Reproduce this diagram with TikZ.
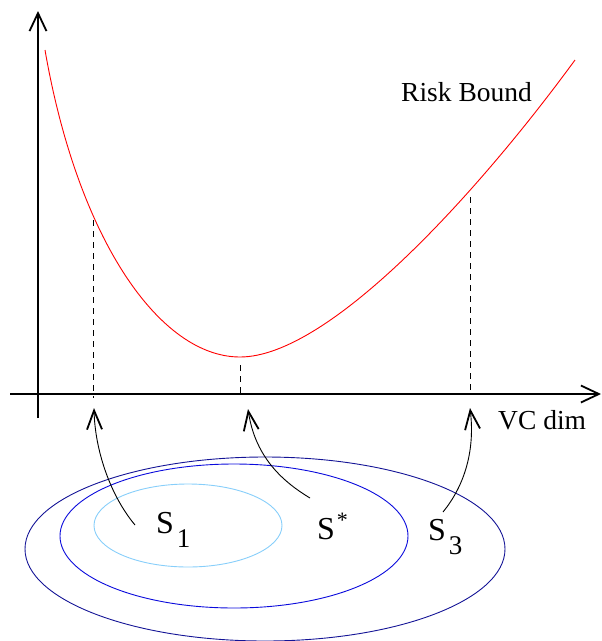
\documentclass[tikz,border=0pt]{standalone}
\usepackage{fontspec}
\setmainfont{Liberation Serif}
\usetikzlibrary{arrows.meta}
\definecolor{outerblue}{RGB}{20,20,150}
\definecolor{midblue}{RGB}{10,10,220}
\definecolor{innerblue}{RGB}{135,206,250}
\begin{document}
\begin{tikzpicture}[x=1pt,y=-1pt,
  axis/.style={line width=1.2pt,-{Straight Barb[length=18pt,width=17pt,line width=1.8pt]}},
  pointer/.style={line width=0.9pt,-{Straight Barb[length=19pt,width=15pt,line width=1.8pt]}},
  guide/.style={line width=0.8pt,dash pattern=on 6pt off 5pt},
  lbl/.style={inner sep=0pt,font=\fontsize{32}{32}\selectfont},
  small/.style={inner sep=0pt,font=\fontsize{27.5}{27.5}\selectfont}]
\useasboundingbox (0,0) rectangle (602,641);
% axes
\coordinate (yb) at (38,418);
\coordinate (yt) at (38,11);
\coordinate (xl) at (10,394);
\coordinate (xr) at (601,394);
\draw[axis] (yb) -- (yt);
\draw[axis] (xl) -- (xr);
% curve
\coordinate (c0) at (45,50);
\coordinate (cm) at (240,357);
\coordinate (c1) at (575,60);
\draw[red,line width=0.9pt] (c0) .. controls (78,240) and (160,357) .. (cm)
   .. controls (330,357) and (480,190) .. (c1);
% dashed guides
\coordinate (p1) at (93,220);
\coordinate (a1) at (93,394);
\coordinate (p2) at (240,357);
\coordinate (a2) at (240,394);
\coordinate (p3) at (470,197);
\coordinate (a3) at (470,394);
\draw[guide] (p1) -- (a1) -- ++(0,4);
\draw[guide] (p2) ++(0,8) -- (a2);
\draw[guide] (p3) -- (a3);
% labels on plot
\node[small,anchor=base west] (rb) at (401,101) {Risk Bound};
\node[small,anchor=base west] (vc) at (498,429) {VC dim};
% ellipses
\draw[outerblue,line width=0.9pt] (265,549) ellipse [x radius=240, y radius=92];
\draw[midblue,line width=0.9pt] (234,536) ellipse [x radius=174, y radius=72];
\draw[innerblue,line width=0.9pt] (188,525.5) ellipse [x radius=94, y radius=41.5];
% set labels
\node[lbl,anchor=base west] (s1) at (156,533) {S\hspace{3pt}\raisebox{-14pt}{\fontsize{27}{27}\selectfont 1}};
\node[lbl,anchor=base west] (ss) at (317,539) {S\hspace{2pt}\raisebox{12pt}{\fontsize{22}{22}\selectfont *}};
\node[lbl,anchor=base west] (s3) at (428,540) {S\hspace{3pt}\raisebox{-14pt}{\fontsize{27}{27}\selectfont 3}};
% pointers
\coordinate (t1) at (94,408);
\coordinate (t2) at (248,409);
\coordinate (t3) at (470,408);
\draw[pointer] (135,525) .. controls (110,495) and (95,450) .. (t1);
\draw[pointer] (310,498) .. controls (280,480) and (255,455) .. (t2);
\draw[pointer] (443,512) .. controls (465,485) and (475,450) .. (t3);
\end{tikzpicture}
\end{document}
